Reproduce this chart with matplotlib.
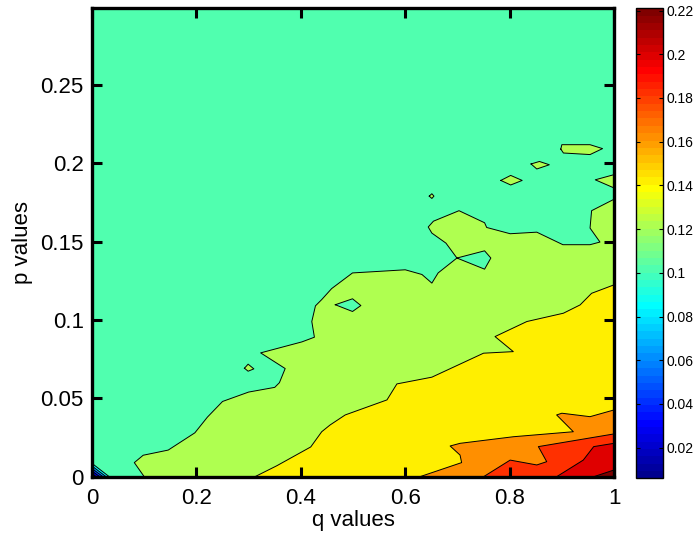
import numpy as np
import matplotlib
matplotlib.use("agg")
import matplotlib.pyplot as plt
from matplotlib.colors import ListedColormap, Normalize
from matplotlib.cm import ScalarMappable

plt.rcParams['font.family'] = ['Liberation Sans', 'DejaVu Sans']

# z range of the surface and the contour levels
z_min = 0.006
z_max = 0.221
cbar_ticks = [0.02, 0.04, 0.06, 0.08, 0.10, 0.12, 0.14, 0.16, 0.18, 0.20, 0.22]
cbar_labels = ['0.02', '0.04', '0.06', '0.08', '0.1', '0.12', '0.14', '0.16', '0.18', '0.2', '0.22']

q_ticks = [0, 0.2, 0.4, 0.6, 0.8, 1]
q_labels = ['0', '0.2', '0.4', '0.6', '0.8', '1']
p_ticks = [0, 0.05, 0.1, 0.15, 0.2, 0.25]
p_labels = ['0', '0.05', '0.1', '0.15', '0.2', '0.25']
q_range = (0.0, 1.0)
p_range = (0.0, 0.299)

# contour lines: (q, p) vertices, value rises to the lower right
c012_q = [0.100, 0.081, 0.098, 0.146, 0.197, 0.221, 0.250, 0.300, 0.350, 0.359,
          0.370, 0.323, 0.402, 0.426, 0.421, 0.428, 0.440, 0.459, 0.499, 0.550,
          0.600, 0.632, 0.651, 0.663, 0.699, 0.678, 0.651, 0.644, 0.654, 0.703,
          0.752, 0.756, 0.801, 0.852, 0.902, 0.954, 0.973, 0.954, 0.957, 1.000]
c012_p = [0.000, 0.009, 0.0137, 0.017, 0.028, 0.038, 0.048, 0.054, 0.057, 0.060,
          0.069, 0.079, 0.086, 0.089, 0.099, 0.109, 0.113, 0.120, 0.130, 0.131,
          0.132, 0.129, 0.1235, 0.130, 0.1395, 0.149, 0.1554, 0.1593, 0.163, 0.1697,
          0.162, 0.159, 0.155, 0.156, 0.148, 0.148, 0.1497, 0.1586, 0.1697, 0.177]

c014_q = [0.312, 0.354, 0.419, 0.440, 0.456, 0.485, 0.565, 0.584, 0.651, 0.750,
          0.807, 0.772, 0.833, 0.903, 0.935, 0.957, 1.000]
c014_p = [0.000, 0.007, 0.019, 0.0287, 0.033, 0.0394, 0.049, 0.0592, 0.0635, 0.0788,
          0.0798, 0.0894, 0.099, 0.1043, 0.1096, 0.117, 0.1224]

c016_q = [0.628, 0.708, 0.705, 0.686, 0.705, 0.807, 0.922, 0.890, 0.900, 0.954, 1.000]
c016_p = [0.000, 0.009, 0.0138, 0.0196, 0.0213, 0.0255, 0.0287, 0.0394, 0.0405, 0.0383, 0.0426]

c018_q = [0.750, 0.801, 0.852, 0.871, 0.855, 1.000]
c018_p = [0.000, 0.0106, 0.0075, 0.0096, 0.0192, 0.0273]

c020_q = [0.890, 0.941, 0.961, 1.000]
c020_p = [0.000, 0.0106, 0.0192, 0.0213]

c022_q = [0.961, 1.000]
c022_p = [0.000, 0.0043]

# small closed patches above 0.12 inside the 0.10 band
isl_a_q = [0.898, 0.900, 0.954, 0.978, 0.954, 0.903]
isl_a_p = [0.209, 0.2118, 0.2118, 0.2093, 0.2055, 0.2065]
isl_b_q = [0.841, 0.857, 0.876, 0.852]
isl_b_p = [0.1995, 0.2011, 0.199, 0.1963]
isl_c_q = [0.783, 0.802, 0.824, 0.802]
isl_c_p = [0.189, 0.1922, 0.189, 0.1861]
isl_d_q = [0.646, 0.651, 0.655, 0.651]
isl_d_p = [0.179, 0.1805, 0.179, 0.1775]
isl_e_q = [0.292, 0.299, 0.310, 0.299]
isl_e_p = [0.0692, 0.0718, 0.0688, 0.0673]
wedge_q = [1.000, 0.964, 1.000]
wedge_p = [0.1927, 0.1894, 0.1842]

# holes below 0.12 inside the 0.12 band
hole_a_q = [0.699, 0.752, 0.764, 0.752]
hole_a_p = [0.1395, 0.1441, 0.1395, 0.1324]
hole_b_q = [0.466, 0.499, 0.515, 0.499]
hole_b_p = [0.1097, 0.1135, 0.1092, 0.1054]

# low values in the q=0, p=0 corner: level, q where it meets p=0, p where it meets q=0
corner_levels = [0.10, 0.08, 0.06, 0.04, 0.02]
corner_q = [0.033, 0.027, 0.021, 0.015, 0.008]
corner_p = [0.0085, 0.0068, 0.0052, 0.0036, 0.002]


def matlab_jet(m=64):
    n = int(np.ceil(m / 4))
    u = np.concatenate([np.arange(1, n + 1) / n, np.ones(n - 1), np.arange(n, 0, -1) / n])
    g = int(np.ceil(n / 2)) - (1 if m % 4 == 1 else 0) + np.arange(1, len(u) + 1)
    r = g + n
    b = g - n
    J = np.zeros((m, 3))
    J[r[r <= m] - 1, 0] = u[r <= m]
    J[g[g <= m] - 1, 1] = u[g <= m]
    J[b[b >= 1] - 1, 2] = u[b >= 1]
    return J


jet = matlab_jet(64)


def band_color(z):
    return jet[min(int(z / z_max * 64), 63)]


fig = plt.figure(figsize=(6.94, 5.33), dpi=100)
ax = fig.add_axes([0.1326, 0.1056, 0.7522, 0.8794])
LW = 0.7

ax.set_facecolor(band_color(0.10))

# nested bands, each filled from its contour down to the lower right corner
bands = [(0.12, c012_q, c012_p), (0.14, c014_q, c014_p), (0.16, c016_q, c016_p),
         (0.18, c018_q, c018_p), (0.20, c020_q, c020_p), (0.22, c022_q, c022_p)]
for lev, qq, pp in bands:
    ax.fill(qq + [q_range[1]], pp + [p_range[0]], color=band_color(lev), lw=0)
    if lev == 0.12:
        for iq, ip in [(isl_a_q, isl_a_p), (isl_b_q, isl_b_p), (isl_c_q, isl_c_p),
                       (isl_d_q, isl_d_p), (isl_e_q, isl_e_p), (wedge_q, wedge_p)]:
            ax.fill(iq, ip, color=band_color(0.12), lw=0)
            ax.plot(iq + iq[:1], ip + ip[:1], color='k', lw=LW)
        for hq, hp in [(hole_a_q, hole_a_p), (hole_b_q, hole_b_p)]:
            ax.fill(hq, hp, color=band_color(0.10), lw=0)
            ax.plot(hq + hq[:1], hp + hp[:1], color='k', lw=LW)
for lev, qq, pp in bands:
    ax.plot(qq, pp, color='k', lw=LW)

# corner bands
for i, lev in enumerate(corner_levels):
    lower = corner_levels[i + 1] if i + 1 < len(corner_levels) else z_min
    ax.fill([0, corner_q[i], 0], [corner_p[i], 0, 0], color=band_color(lower), lw=0)
    ax.plot([0, corner_q[i]], [corner_p[i], 0], color='k', lw=LW)

ax.set_xlim(*q_range)
ax.set_ylim(*p_range)
ax.set_xticks(q_ticks)
ax.set_xticklabels(q_labels)
ax.set_yticks(p_ticks)
ax.set_yticklabels(p_labels)
ax.tick_params(direction='in', length=7, width=2.2, top=True, right=True,
               labelsize=16)
ax.tick_params(axis='x', pad=8)
ax.tick_params(axis='y', pad=6)
for s in ax.spines.values():
    s.set_linewidth(2.4)
ax.set_xlabel('q values', fontsize=16, labelpad=1)
ax.set_ylabel('p values', fontsize=16, labelpad=5)

cax = fig.add_axes([0.9164, 0.1026, 0.0385, 0.8818])
sm = ScalarMappable(norm=Normalize(z_min, z_max), cmap=ListedColormap(jet))
cb = fig.colorbar(sm, cax=cax)
cb.set_ticks(cbar_ticks)
cb.set_ticklabels(cbar_labels)
cb.outline.set_linewidth(1.0)
cax.tick_params(direction='in', length=3, width=0.8, left=True, right=True,
                labelsize=10, pad=3)

fig.savefig('out.png', dpi=100)
